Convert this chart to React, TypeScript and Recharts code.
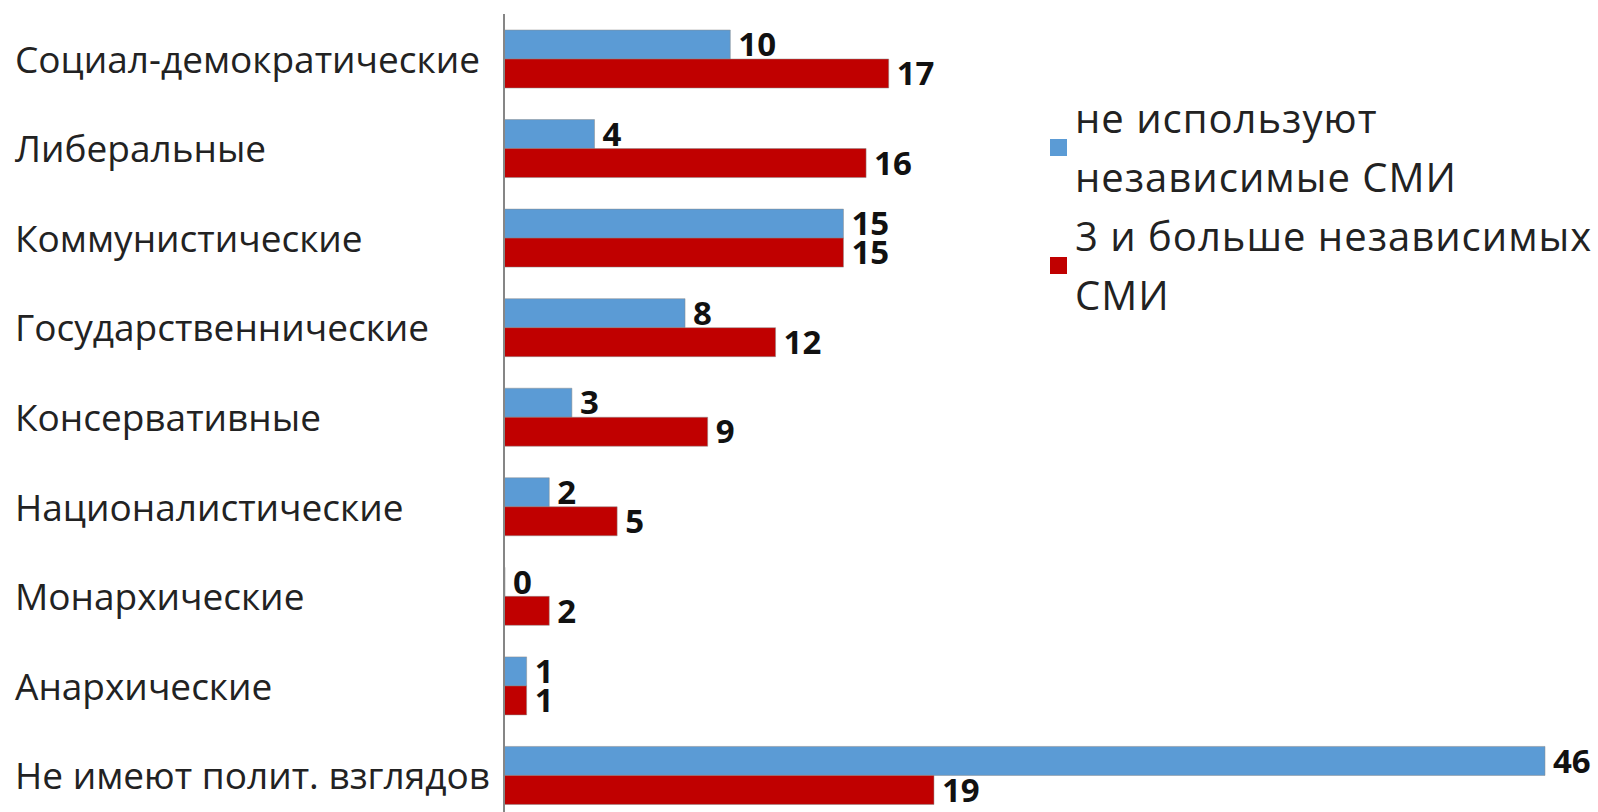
import { BarChart, Bar, XAxis, YAxis, LabelList } from 'recharts';

const categories = [
    'Социал-демократические',
    'Либеральные',
    'Коммунистические',
    'Государственнические',
    'Консервативные',
    'Националистические',
    'Монархические',
    'Анархические',
    'Не имеют полит. взглядов',
];
const notUsing = [10, 4, 15, 8, 3, 2, 0, 1, 46];
const threePlus = [17, 16, 15, 12, 9, 5, 2, 1, 19];
const seriesNames = ['не используют независимые СМИ', '3 и больше независимых СМИ'];
// legend text is wrapped the same way as in the picture
const legendLines = [
    ['не используют', 'независимые СМИ'],
    ['3 и больше независимых', 'СМИ'],
];
const colors = ['#5B9BD5', '#C00000'];

const data = categories.map((name, i) => ({
    name,
    notUsing: notUsing[i],
    threePlus: threePlus[i],
}));

const FONT = '"Open Sans", sans-serif';

// category labels are left aligned at the image edge
const CategoryTick = (props: any) => {
    const { y, payload } = props;
    return (
        <text x={15} y={y + 14} textAnchor="start" fontFamily={FONT} fontSize={37} fill="#222">
            {payload.value}
        </text>
    );
};

const labelStyle = { fill: '#111', fontFamily: FONT, fontWeight: 700, fontSize: 33 };

export default function App() {
    return (
        <div style={{ position: 'fixed', left: 0, top: 0, width: 1598, height: 812, overflow: 'hidden', background: '#fff' }}>
            <BarChart
                width={1598}
                height={830}
                data={data}
                layout="vertical"
                margin={{ top: 14, right: 53, bottom: 10, left: 0 }}
                barSize={29}
                barGap={0}
            >
                <XAxis type="number" domain={[0, 46]} hide />
                <YAxis
                    type="category"
                    dataKey="name"
                    width={504}
                    tickLine={false}
                    axisLine={{ stroke: '#868686', strokeWidth: 2 }}
                    tick={<CategoryTick />}
                    interval={0}
                />
                <Bar dataKey="notUsing" name={seriesNames[0]} fill={colors[0]} stroke="#8c8c8c" strokeOpacity={0.5} minPointSize={1} isAnimationActive={false}>
                    <LabelList dataKey="notUsing" position="right" offset={8} {...labelStyle} />
                </Bar>
                <Bar dataKey="threePlus" name={seriesNames[1]} fill={colors[1]} stroke="#8c8c8c" strokeOpacity={0.5} isAnimationActive={false}>
                    <LabelList dataKey="threePlus" position="right" offset={8} {...labelStyle} />
                </Bar>
            </BarChart>

            {/* Legend */}
            {legendLines.map((lines, i) => (
                <div key={seriesNames[i]}>
                    <div style={{ position: 'absolute', left: 1050, top: i === 0 ? 139 : 257, width: 17, height: 17, background: colors[i] }} />
                    <div
                        style={{
                            position: 'absolute',
                            left: 1075,
                            top: 88 + i * 118,
                            fontFamily: FONT,
                            fontSize: 40,
                            letterSpacing: 1,
                            lineHeight: '59px',
                            color: '#222',
                            whiteSpace: 'nowrap',
                        }}
                    >
                        {lines.map((l) => (
                            <div key={l}>{l}</div>
                        ))}
                    </div>
                </div>
            ))}
        </div>
    );
}
